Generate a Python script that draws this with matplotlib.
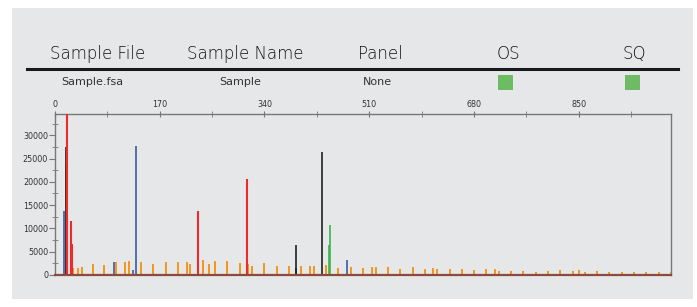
import numpy as np
import matplotlib
matplotlib.use("Agg")
import matplotlib.pyplot as plt
from matplotlib.patches import Rectangle
from matplotlib.ticker import MultipleLocator

# electropherogram peaks (size in bp, height in RFU) per dye colour
blue_x = [15.2, 95.3, 127, 131.6, 474.8]
blue_y = [13740, 2800, 1000, 27700, 3290]

red_x = [19, 25.4, 27, 232.8, 312.4]
red_y = [40000, 11600, 6600, 13670, 20600]

black_x = [17.3, 390.5, 391.9, 433.7]
black_y = [27550, 1500, 6440, 26400]

green_x = [6.5, 445.5, 447]
green_y = [300, 6500, 10670]

orange_x = [18.4, 30, 37, 44.4, 61.7, 80, 99.6, 113.7, 120, 139.7, 159.7, 179.8,
            199.8, 213.9, 219.8, 239.8, 250, 260, 279.9, 300, 314, 320, 340,
            360, 380, 400, 414, 420, 440, 459.6, 480.2, 499.7, 514.3, 520.3,
            540.3, 560.3, 580.4, 600.4, 614, 620, 640.5, 660.5, 680.5, 700,
            714.6, 720.6, 740, 760, 780.7, 800.7, 820, 840.8, 850.5, 860, 880,
            900, 920, 940, 960, 980, 1000]
orange_y = [24000, 1570, 1400, 1700, 2360, 2100, 2860, 2800, 2930, 2800, 2290, 2860,
            2800, 2790, 2300, 3150, 2400, 2930, 2930, 2500, 2300, 1830, 2500,
            1900, 1830, 1900, 1900, 1900, 2150, 1570, 1650, 1400, 1700, 1700,
            1790, 1360, 1650, 1220, 1500, 1360, 1220, 1290, 1070, 1360,
            1360, 930, 930, 930, 640, 930, 1000, 790, 1000, 720, 790,
            720, 720, 720, 720, 720, 720]

x_ticks = [0, 170, 340, 510, 680, 850]

headers = ["Sample File", "Sample Name", "Panel", "OS", "SQ"]
header_px = [98, 245, 380, 508, 634]
row_text = ["Sample.fsa", "Sample", "None"]
row_px = [92, 240, 377]
status_px = [505, 632]

W, H = 697, 307
fig = plt.figure(figsize=(W / 100, H / 100), dpi=100)
fig.patch.set_facecolor("white")

bg = "#e6e7e8"

def fx(px):
    return px / W

def fy(py):
    return 1 - py / H

# grey panel behind everything
bg_ax = fig.add_axes([fx(12), fy(299), 681 / W, 291 / H], zorder=-1)
bg_ax.set_facecolor(bg)
bg_ax.axis("off")
bg_ax.add_patch(Rectangle((0, 0), 1, 1, transform=bg_ax.transAxes,
                          facecolor=bg, edgecolor="none"))

# table header
for t, px in zip(headers, header_px):
    fig.text(fx(px), fy(54), t, ha="center", va="center", fontsize=12,
             color="#111111", fontweight="light")
fig.add_artist(plt.Line2D([fx(27), fx(678)], [fy(69), fy(69)],
                          color="#1a1a1a", lw=2.2, transform=fig.transFigure))
for t, px in zip(row_text, row_px):
    fig.text(fx(px), fy(82), t, ha="center", va="center", fontsize=8,
             color="#333333")
for px in status_px:
    fig.add_artist(Rectangle((fx(px - 7.5), fy(90)), 15 / W, 15 / H,
                             transform=fig.transFigure,
                             facecolor="#6dbb63", edgecolor="none"))

ax = fig.add_axes([fx(55), fy(275), (671 - 55) / W, (275 - 114.3) / H])
ax.set_facecolor(bg)

def peaks(xs, ys, color, lw=1.3):
    ax.vlines(xs, 0, ys, colors=color, lw=lw, zorder=3)

peaks(orange_x, orange_y, "#f7941d", lw=1.4)
peaks(black_x, black_y, "#222222", lw=1.2)
peaks(green_x, green_y, "#3cb44b", lw=1.2)
peaks(blue_x, blue_y, "#3a5aa8", lw=1.2)
peaks(red_x, red_y, "#ee2a2a", lw=1.5)

ax.axhline(0, color="#8a4a3c", lw=1.6, zorder=4, clip_on=False)

ax.set_xlim(0, 1000)
ax.set_ylim(0, 34500)

ax.xaxis.tick_top()
ax.set_xticks(x_ticks)
ax.xaxis.set_minor_locator(MultipleLocator(85))
ax.yaxis.set_major_locator(MultipleLocator(5000))
ax.yaxis.set_minor_locator(MultipleLocator(2500))
ax.tick_params(axis="x", which="both", direction="inout", length=5,
               color="#777777", labelsize=5.8, labelcolor="#333333", pad=1.5)
ax.tick_params(axis="y", which="major", direction="out", length=4,
               color="#777777", labelsize=5.8, labelcolor="#333333", pad=1)
ax.tick_params(axis="y", which="minor", direction="inout", length=4,
               color="#777777")

for s in ["left", "top", "right"]:
    ax.spines[s].set_color("#777777")
    ax.spines[s].set_linewidth(1)
ax.spines["bottom"].set_visible(False)

fig.savefig("out.png", dpi=100, facecolor="white")
